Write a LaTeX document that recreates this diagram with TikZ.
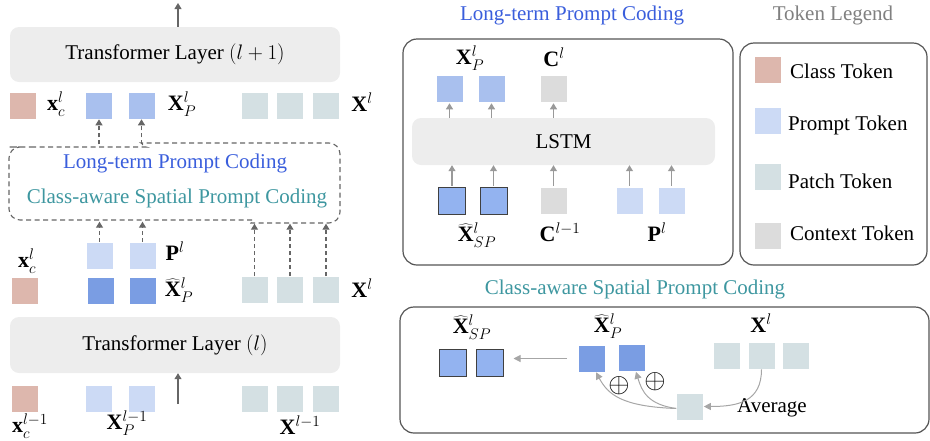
\RequirePackage{fix-cm}
\documentclass[tikz,border=0pt]{standalone}
\usepackage{fontspec}
\setmainfont{Liberation Serif}
\usetikzlibrary{arrows.meta}

\definecolor{clsC}{HTML}{DDB7AD}
\definecolor{promptLight}{HTML}{CCDAF5}
\definecolor{promptMid}{HTML}{A9C0EE}
\definecolor{promptDark}{HTML}{7A9DE3}
\definecolor{promptSP}{HTML}{93B3F0}
\definecolor{patchC}{HTML}{D4E0E3}
\definecolor{ctxC}{HTML}{DCDCDC}
\definecolor{layerC}{HTML}{EDEDED}
\definecolor{ltBlue}{HTML}{3A5EDC}
\definecolor{caTeal}{HTML}{3E97A0}
\definecolor{frameC}{HTML}{555555}

\tikzset{
  tok/.style={minimum size=27pt, inner sep=0pt, draw=white, line width=0.6pt},
  cls/.style={tok, fill=clsC},
  pl/.style={tok, fill=promptLight},
  pm/.style={tok, fill=promptMid},
  pd/.style={tok, fill=promptDark},
  psp/.style={tok, fill=promptSP, draw=black!75, line width=1pt},
  pt/.style={tok, fill=patchC},
  ctx/.style={tok, fill=ctxC},
  layerbox/.style={fill=layerC, rounded corners=9pt, inner sep=0pt},
  panel/.style={draw=frameC, line width=1.2pt, rounded corners=14pt, inner sep=0pt},
  lbl/.style={inner sep=0pt},
  mlbl/.style={inner sep=0pt, font=\fontsize{22}{26}\selectfont},
  darr/.style={draw=black!60, line width=1.1pt, -{Triangle[width=7pt,length=6pt]}},
  dasharr/.style={darr, dash pattern=on 4pt off 3pt},
  larr/.style={draw=black!40, line width=1.1pt, -{Triangle[width=7pt,length=6pt]}},
  carr/.style={draw=black!35, line width=1pt, -{Triangle[width=7pt,length=7pt]}},
}

\begin{document}
\begin{tikzpicture}[x=1pt, y=-1pt, font=\fontsize{21}{25}\selectfont]
\useasboundingbox (0,0) rectangle (930,440);

% ---------------- left column: two transformer layers ----------------
\node[layerbox, minimum width=330pt, minimum height=55pt] (L1) at (175,54.5) {Transformer Layer $(l+1)$};
\coordinate (out) at (178,3);
\draw[darr] (L1.north -| out) -- (out);

% tokens entering layer l+1
\node[cls] (c1) at (23,105.5) {};
\node[mlbl] (c1l) at (56,104) {$\mathbf{x}_c^l$};
\node[pm] (p1) at (99,105.5) {};
\node[pm] (p2) at (141.5,105.5) {};
\node[mlbl] (p1l) at (182,104) {$\mathbf{X}_P^l$};
\node[pt] (t1) at (254.5,105.5) {};
\node[pt] (t2) at (290,105.5) {};
\node[pt] (t3) at (326,105.5) {};
\node[mlbl] (t1l) at (362,102) {$\mathbf{X}^l$};

% dashed coding block
\node[minimum width=331pt, minimum height=77pt, inner sep=0pt] (dc) at (174.5,183) {};
\draw[black!60, line width=1.1pt, dash pattern=on 5pt off 3.5pt, rounded corners=11pt]
  (20,147) -- (135,147) .. controls (142,147) and (143,143) .. (152,143) -- (340,143)
  -- (340,223) -- (262,223) .. controls (252,223) and (252,220) .. (242,220) -- (9,220)
  -- (9,147) -- cycle;
\node[lbl, text=ltBlue] (dcA) at (175,163) {Long-term Prompt Coding};
\node[lbl, text=caTeal] (dcB) at (177,198) {Class-aware Spatial Prompt Coding};
\draw[dasharr] (dc.north -| p1) -- (p1.south);
\draw[dasharr] (dc.north -| p2) -- (p2.south);

% tokens leaving layer l
\node[pl] (q1) at (99.5,255.5) {};
\node[pl] (q2) at (142.5,255.5) {};
\node[mlbl] (q1l) at (175,251) {$\mathbf{P}^l$};
\node[cls] (c2) at (25,291) {};
\node[mlbl] (c2l) at (27,261) {$\mathbf{x}_c^l$};
\node[pd] (h1) at (100.5,291) {};
\node[pd] (h2) at (142.5,291) {};
\node[mlbl] (h1l) at (179,290) {$\widehat{\mathbf{X}}_P^l$};
\node[pt] (u1) at (254.5,290) {};
\node[pt] (u2) at (290,290) {};
\node[pt] (u3) at (326,290) {};
\node[mlbl] (u1l) at (362,288) {$\mathbf{X}^l$};
\draw[dasharr] (q1.north) -- (q1.north |- dc.south);
\draw[dasharr] (q2.north) -- (q2.north |- dc.south);
\draw[dasharr] (u1.north) -- ([yshift=-2pt]u1.north |- dc.south);
\draw[dasharr] (u2.north) -- ([yshift=-2pt]u2.north |- dc.south);
\draw[dasharr] (u3.north) -- ([yshift=-2pt]u3.north |- dc.south);

\node[layerbox, minimum width=330pt, minimum height=56pt] (L0) at (175,345) {Transformer Layer $(l)$};

% tokens entering layer l
\node[cls] (c3) at (25,399) {};
\node[pl] (v1) at (98.5,399) {};
\node[pl] (v2) at (141.5,399) {};
\coordinate (in) at (178,404);
\draw[darr] (in) -- (in |- L0.south);
\node[pt] (w1) at (254.5,399) {};
\node[pt] (w2) at (290,399) {};
\node[pt] (w3) at (326,399) {};
\node[mlbl] (c3l) at (30,426) {$\mathbf{x}_c^{l-1}$};
\node[mlbl] (v1l) at (127,423) {$\mathbf{X}_P^{l-1}$};
\node[mlbl] (w1l) at (300,425) {$\mathbf{X}^{l-1}$};

% ---------------- long-term prompt coding ----------------
\node[lbl, text=ltBlue] (ltT) at (572,15) {Long-term Prompt Coding};
\node[panel, minimum width=330pt, minimum height=226pt] (LT) at (568,152) {};
\node[mlbl] (a1l) at (470,58) {$\mathbf{X}_P^l$};
\node[mlbl] (cc1l) at (554,57) {$\mathbf{C}^l$};
\node[pm] (a1) at (449.5,88.5) {};
\node[pm] (a2) at (491.5,88.5) {};
\node[ctx] (cc1) at (553.5,88.5) {};
\node[layerbox, minimum width=303pt, minimum height=47pt] (lstm) at (563.5,141.5) {LSTM};
\node[psp] (s1) at (452,200.5) {};
\node[psp] (s2) at (493.5,200.5) {};
\node[ctx] (cc0) at (553.5,200.5) {};
\node[pl] (r1) at (629.5,200.5) {};
\node[pl] (r2) at (671.5,200.5) {};
\node[mlbl] (s1l) at (477,235) {$\widehat{\mathbf{X}}_{SP}^l$};
\node[mlbl] (cc0l) at (560,232) {$\mathbf{C}^{l-1}$};
\node[mlbl] (r1l) at (657,232) {$\mathbf{P}^l$};
\foreach \n in {a1,a2,cc1} \draw[larr] (\n.south |- lstm.north) -- ([yshift=-1pt]\n.south);
\foreach \n in {s1,s2,cc0,r1,r2} \draw[larr] ([yshift=1pt]\n.north) -- (\n.north |- lstm.south);

% ---------------- token legend ----------------
\node[lbl, text=black!50] (lgT) at (833,15) {Token Legend};
\node[panel, minimum width=187pt, minimum height=222pt] (LG) at (833.5,154) {};
\node[cls] (k1) at (768,69.5) {};
\node[pl] (k2) at (768,120.5) {};
\node[pt] (k3) at (768,177) {};
\node[ctx] (k4) at (768,235.5) {};
\node[lbl, anchor=west] (k1l) at (790,71) {Class Token};
\node[lbl, anchor=west] (k2l) at (788,125) {Prompt Token};
\node[lbl, anchor=west] (k3l) at (788,181) {Patch Token};
\node[lbl, anchor=west] (k4l) at (790,233) {Context Token};

% ---------------- class-aware spatial prompt coding ----------------
\node[lbl, text=caTeal] (caT) at (635,289) {Class-aware Spatial Prompt Coding};
\node[panel, minimum width=529pt, minimum height=126pt] (CA) at (664.5,370) {};
\node[mlbl] (e1l) at (472,327) {$\widehat{\mathbf{X}}_{SP}^l$};
\node[mlbl] (f1l) at (608,326) {$\widehat{\mathbf{X}}_P^l$};
\node[mlbl] (g1l) at (761,323) {$\mathbf{X}^l$};
\node[psp] (e1) at (453,363) {};
\node[psp] (e2) at (489.5,363) {};
\node[pd] (f1) at (592,358.5) {};
\node[pd] (f2) at (632,358) {};
\node[pt] (g1) at (726.5,355.5) {};
\node[pt] (g2) at (761.5,355.5) {};
\node[pt] (g3) at (796,355.5) {};
\node[pt] (avg) at (690,406.5) {};
\node[lbl, anchor=west] (avgl) at (737,408) {Average};
\node[lbl] (o1) at (619,386) {\scalebox{1.3}{$\oplus$}};
\node[lbl] (o2) at (655,382) {\scalebox{1.3}{$\oplus$}};
\draw[carr, shorten <=11pt, shorten >=10pt] (f1.west) -- (e2.east |- f1.west);
\draw[carr] (g2.south) .. controls +(0,32) and +(35,0) .. (avg.east);
\draw[carr] ([yshift=-2pt]avg.west) .. controls +(-55,-2) and +(12,22) .. ([xshift=4pt]f1.south);
\draw[carr] ([yshift=-2pt]avg.west) .. controls +(-28,-4) and +(6,20) .. ([xshift=4pt]f2.south);
\end{tikzpicture}
\end{document}
